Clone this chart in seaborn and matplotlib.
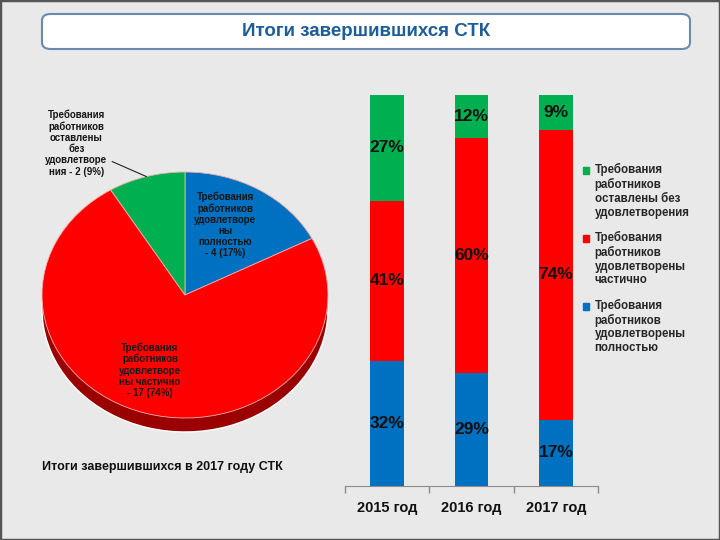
import numpy as np
import matplotlib
matplotlib.use("Agg")
import matplotlib.pyplot as plt
import matplotlib.patches as mpatches
from matplotlib.legend_handler import HandlerPatch
import seaborn as sns

sns.set_style("white")
plt.rcParams["font.family"] = ["Liberation Sans", "DejaVu Sans"]
plt.rcParams["font.weight"] = "bold"

# ---- data ----
title = "Итоги завершившихся СТК"
pie_title = "Итоги завершившихся в 2017 году СТК"
pie_values = [4, 17, 2]  # полностью, частично, без удовлетворения
pie_labels = [
    "Требования\nработников\nудовлетворе\nны\nполностью\n- 4 (17%)",
    "Требования\nработников\nудовлетворе\nны частично\n- 17 (74%)",
    "Требования\nработников\nоставлены\nбез\nудовлетворе\nния - 2 (9%)",
]
years = ["2015 год", "2016 год", "2017 год"]
full = [32, 29, 17]
partial = [41, 60, 74]
none_ = [27, 12, 9]
legend_labels = [
    "Требования\nработников\nоставлены без\nудовлетворения",
    "Требования\nработников\nудовлетворены\nчастично",
    "Требования\nработников\nудовлетворены\nполностью",
]

blue, red, green = "#0070c0", "#ff0000", "#00b050"
side_red = "#9a0000"
bg = "#e9e9e9"

fig = plt.figure(figsize=(7.2, 5.4), dpi=100, facecolor=bg)

# frame around slide
fig.patches.append(mpatches.Rectangle((0, 0), 1, 1, transform=fig.transFigure,
                                      fill=False, edgecolor="#555555", lw=2.5))

# title box
box = mpatches.FancyBboxPatch((42 / 720, 1 - 49 / 540), 648 / 720, 35 / 540,
                              boxstyle="round,pad=0,rounding_size=0.012",
                              transform=fig.transFigure, facecolor="white",
                              edgecolor="#6a8bb0", lw=1.5)
fig.patches.append(box)
fig.text(366 / 720, 1 - 32 / 540, title, ha="center", va="center",
         fontsize=13.5, fontweight="bold", color="#1f5d99")

# ---- pie (pseudo 3D) ----
axp = fig.add_axes([42 / 720, 0.2, 286 / 720, 260 / 540])
depth = 14 / 123
axp.pie(pie_values, colors=[side_red] * 3, startangle=90, counterclock=False,
        center=(0, -depth), radius=1, frame=False)
axp.add_patch(mpatches.Rectangle((-1, -depth), 2, depth, facecolor=side_red,
                                 edgecolor="none", zorder=0.5))
wedges, _ = axp.pie(pie_values, colors=[blue, red, green], startangle=90,
                    counterclock=False, radius=1, frame=False,
                    wedgeprops=dict(edgecolor="#f2b0b0", linewidth=0.6))
axp.set_aspect("auto")
axp.set_xlim(-1, 1)
axp.set_ylim(-1 - depth, 1)
axp.axis("off")

lab_kw = dict(ha="center", va="center", fontsize=7, fontweight="bold",
              color="#161616", linespacing=1.15)
axp.text(0.28, 0.57, pie_labels[0], **lab_kw)
axp.text(-0.245, -0.61, pie_labels[1], **lab_kw)
axp.text(-0.76, 1.236, pie_labels[2], clip_on=False, **lab_kw)
w = wedges[2]
mid = np.deg2rad((w.theta1 + w.theta2) / 2)
axp.plot([-0.51, np.cos(mid)], [1.085, np.sin(mid)], color="#222222", lw=0.8,
         clip_on=False)

fig.text(42 / 720, 1 - 467 / 540, pie_title, ha="left", va="center",
         fontsize=9, fontweight="bold", color="#111111")

# ---- stacked bars ----
axb = fig.add_axes([345 / 720, 1 - 486 / 540, 253 / 720, 391 / 540])
axb.set_facecolor(bg)
cum2 = [a + b for a, b in zip(full, partial)]
cum3 = [a + b for a, b in zip(cum2, none_)]
bar_kw = dict(saturation=1, width=0.4, ax=axb, linewidth=0, edgecolor="none")
sns.barplot(x=years, y=cum3, color=green, **bar_kw)
sns.barplot(x=years, y=cum2, color=red, **bar_kw)
sns.barplot(x=years, y=full, color=blue, **bar_kw)
axb.set_ylim(0, 100)
axb.set_xlim(-0.5, 2.5)
axb.set_ylabel("")
axb.set_yticks([])
for s in ["top", "right", "left"]:
    axb.spines[s].set_visible(False)
axb.spines["bottom"].set_color("#8c8c8c")
axb.tick_params(axis="x", length=0, pad=10.5, labelsize=10.5, labelcolor="#111111")
for t in axb.get_xticklabels():
    t.set_fontweight("bold")
axb.set_xticks([-0.5, 0.5, 1.5, 2.5], minor=True)
axb.tick_params(axis="x", which="minor", bottom=True, length=5, width=1,
                color="#8c8c8c", direction="out")

for i in range(len(years)):
    segs = [(0, full[i]), (full[i], cum2[i]), (cum2[i], min(cum3[i], 100))]
    vals = [full[i], partial[i], none_[i]]
    for (lo, hi), v in zip(segs, vals):
        axb.text(i, (lo + hi) / 2, f"{v}%", ha="center", va="center",
                 fontsize=12.5, fontweight="bold", color="#111111")

# legend with squares next to the first line
fs = 8.3


def top_square(legend, orig_handle, xdescent, ydescent, width, height, fontsize):
    return mpatches.Rectangle((-xdescent, -ydescent + 1.5 * fontsize * 1.2),
                              width, height)


handles = [mpatches.Patch(color=c) for c in [green, red, blue]]
fig.legend(handles, legend_labels, loc="upper left",
           bbox_to_anchor=(583 / 720, 1 - 163 / 540), frameon=False,
           borderpad=0, borderaxespad=0, handlelength=0.55, handleheight=0.55,
           handletextpad=0.45, labelspacing=1.05,
           prop=dict(size=fs, weight="bold"),
           handler_map={mpatches.Patch: HandlerPatch(patch_func=top_square)})

fig.savefig("out.png", dpi=100, facecolor=bg)
